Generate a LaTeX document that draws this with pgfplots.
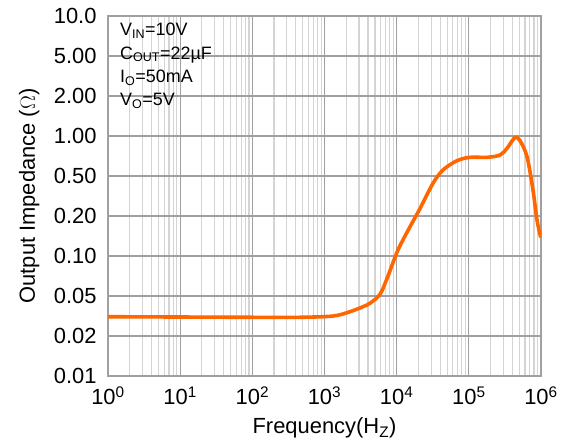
\documentclass[border=0pt]{standalone}
\usepackage{pgfplots}
\pgfplotsset{compat=1.18}
\usepackage{fontspec}
\setmainfont{Liberation Sans}
\definecolor{curve}{RGB}{255,102,0}
\definecolor{gridmaj}{RGB}{160,160,160}
\definecolor{gridmin}{RGB}{212,212,212}

\begin{document}
\begin{tikzpicture}[
  % the y axis is drawn with equal steps 0.01-0.02-0.05-0.1-...
  declare function={
    zr(\m)=(\m<2)?(ln(\m)/ln(2)):((\m<5)?(1+ln(\m/2)/ln(2.5)):(2+ln(\m/5)/ln(2)));
    zd(\v)=floor(ln(\v)/ln(10));
    zpos(\v)=3*(zd(\v)+2)+zr(\v/10^zd(\v));
  }]
\begin{axis}[
    at={(0,0)}, anchor=south west,
    scale only axis,
    width=433bp, height=360bp,
    xmode=log,
    xmin=1, xmax=1e6,
    ymin=0, ymax=9,
    xtick={1,10,100,1000,10000,100000,1000000},
    xticklabels={10\textsuperscript{0},10\textsuperscript{1},10\textsuperscript{2},10\textsuperscript{3},10\textsuperscript{4},10\textsuperscript{5},10\textsuperscript{6}},
    ytick={0,1,2,3,4,5,6,7,8,9},
    yticklabels={0.01,0.02,0.05,0.10,0.20,0.50,1.00,2.00,5.00,10.0},
    xmajorgrids, xminorgrids, ymajorgrids,
    major grid style={gridmaj, line width=1.2bp},
    minor grid style={gridmin, line width=1.2bp},
    axis line style={gridmaj, line width=1.5bp},
    major tick length=0pt, minor tick length=0pt,
    tick label style={font=\fontsize{22}{22}\selectfont},
    xticklabel style={yshift=-7bp},
    yticklabel style={xshift=-8bp},
    xlabel={Frequency(H\textsubscript{Z})},
    ylabel={Output Impedance ($\Omega$)},
    every axis x label/.style={at={(axis description cs:0.5,-0.145)}, anchor=center, font=\fontsize{22}{22}\selectfont},
    every axis y label/.style={at={(axis description cs:-0.182,0.5)}, anchor=center, rotate=90, font=\fontsize{22}{22}\selectfont},
    y filter/.expression={zpos(y)},
]
\addplot[curve, line width=3.6bp, smooth] coordinates {
(1,0.0311) (10,0.0309) (100,0.0307) (457,0.0307) (1312,0.0316)
(2256,0.0349) (3880,0.0407) (4700,0.0446) (5510,0.0492) (6260,0.0547)
(7585,0.0707) (10430,0.111)
(15300,0.166) (21050,0.237) (31860,0.423)
(43850,0.555) (68550,0.652) (103700,0.691) (178500,0.691) (270300,0.719)
(338000,0.808) (436300,0.975) (511900,0.922) (640000,0.699) (774400,0.363)
(879800,0.187) (990000,0.138)
};
\node[anchor=north west, align=left, inner sep=0pt,
      font=\fontsize{18}{23.5}\selectfont]
  at (rel axis cs:0,1) [xshift=12bp, yshift=-7bp]
  {V\textsubscript{IN}=10V\\C\textsubscript{OUT}=22µF\\I\textsubscript{O}=50mA\\V\textsubscript{O}=5V};
\end{axis}
\pgfresetboundingbox
\path[use as bounding box] (-108bp,-72bp) rectangle (463bp,376bp);
\end{tikzpicture}
\end{document}
